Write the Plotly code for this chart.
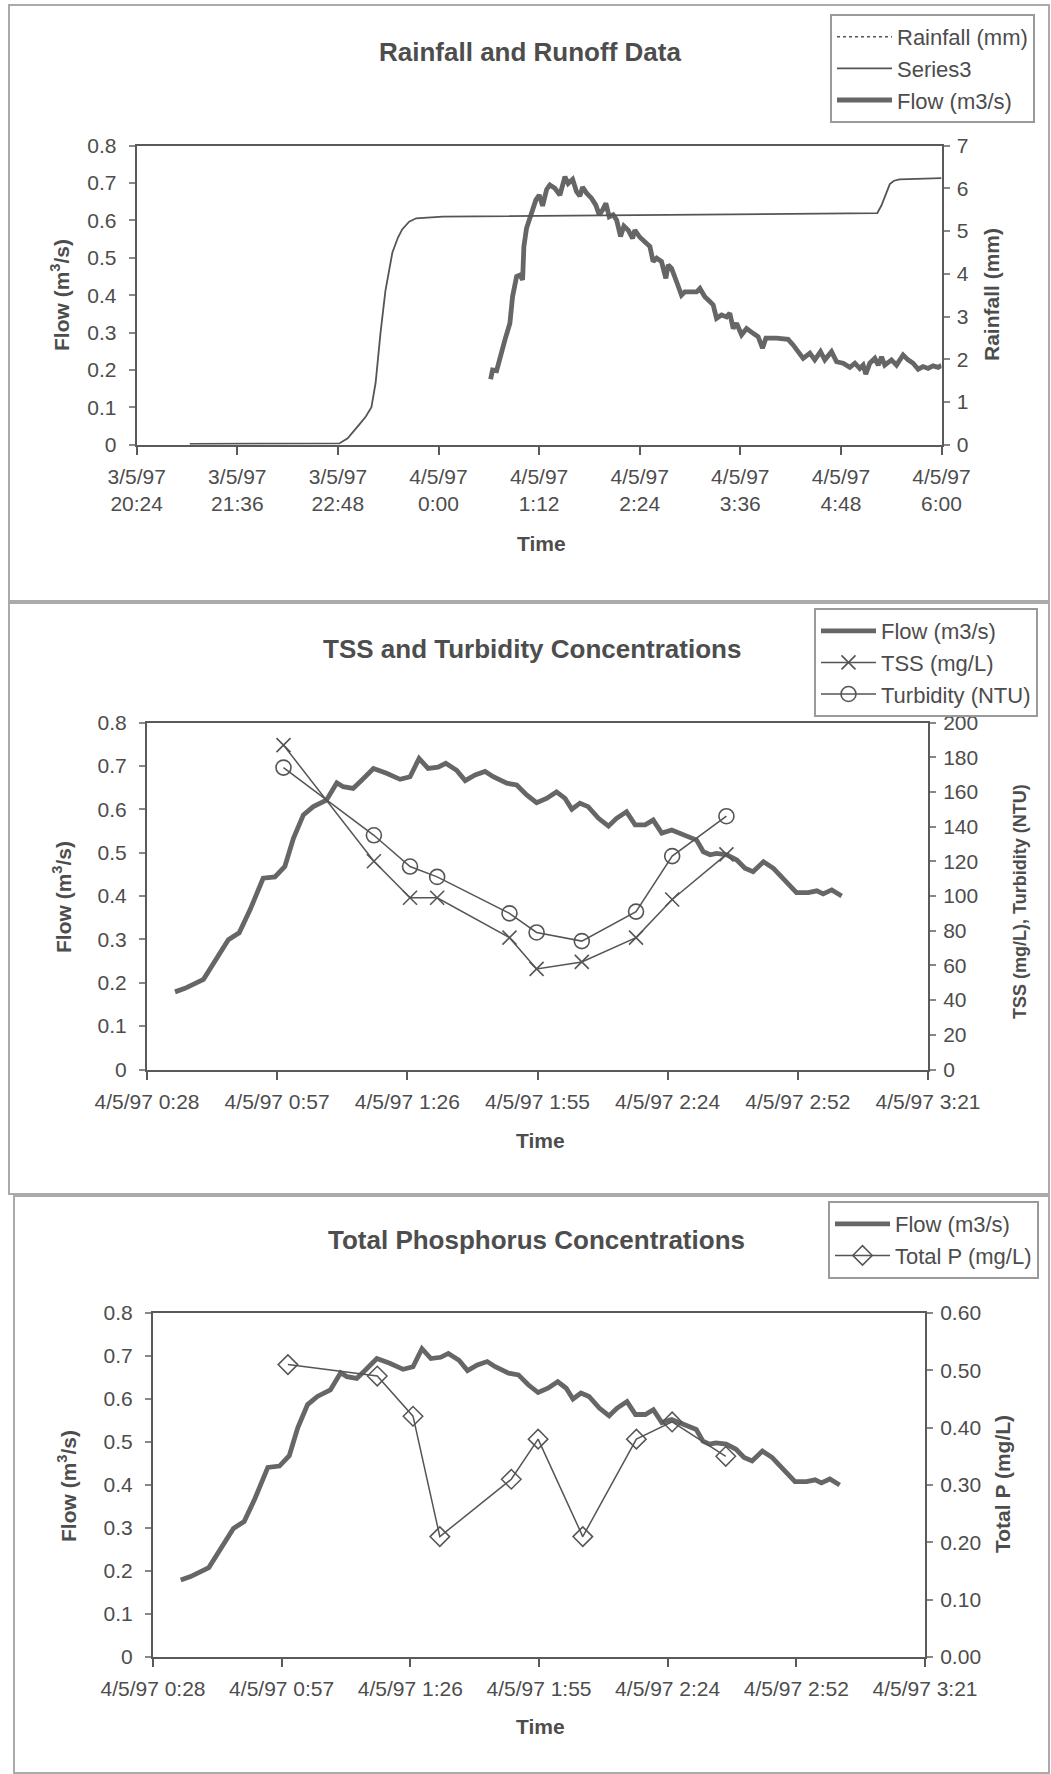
import plotly.graph_objects as go
import pandas as pd

# ---------------- data ----------------
# Panel 1 : rainfall & runoff (time in minutes after 4/5/97 00:00; negative = 3/5/97)
flow1_min = [37.3, 38.7, 41.6, 44.4, 47.5, 51.1, 53.0, 55.9, 58.3, 60.2, 61.1, 63.0, 66.6, 69.7,
             72.1, 74.5, 77.4, 79.7, 83.3, 86.9, 90.5, 92.8, 96.0, 98.8, 101.2, 103.1, 106.0,
             109.6, 112.6, 115.0, 117.4, 119.8, 122.2, 125.0, 127.5, 130.3, 132.7, 135.8, 138.9,
             140.5, 144.1, 147.7, 151.3, 153.6, 156.1, 159.6, 162.7, 164.4, 166.8, 170.4, 173.9,
             176.3, 179.9, 184.7, 187.1, 190.6, 194.2, 196.6, 199.0, 202.6, 206.2, 208.5, 210.9,
             213.3, 216.9, 220.5, 225.2, 228.8, 231.9, 234.3, 241.9, 250.2, 253.8, 258.6, 261.0,
             265.8, 269.3, 273.4, 276.5, 281.3, 284.9, 289.6, 294.4, 298.0, 301.5, 303.9, 305.8,
             308.7, 312.3, 314.7, 317.1, 319.4, 324.2, 327.8, 332.5, 336.1, 339.7, 343.3, 346.8,
             350.4, 354.0, 357.6, 360.0]
flow1 = [0.175, 0.200, 0.198, 0.240, 0.280, 0.325, 0.396, 0.450, 0.454, 0.441, 0.530, 0.579, 0.619, 0.655,
         0.668, 0.639, 0.683, 0.695, 0.686, 0.668, 0.717, 0.699, 0.710, 0.677, 0.665, 0.689, 0.673,
         0.659, 0.641, 0.615, 0.628, 0.646, 0.610, 0.615, 0.601, 0.557, 0.585, 0.574, 0.552,
         0.574, 0.555, 0.543, 0.530, 0.490, 0.499, 0.490, 0.445, 0.481, 0.472, 0.436, 0.400,
         0.409, 0.409, 0.409, 0.418, 0.396, 0.383, 0.374, 0.338, 0.347, 0.342, 0.352, 0.311,
         0.325, 0.294, 0.311, 0.298, 0.289, 0.258, 0.285, 0.285, 0.282, 0.267, 0.245, 0.231,
         0.245, 0.227, 0.249, 0.227, 0.249, 0.222, 0.218, 0.207, 0.218, 0.204, 0.213, 0.189,
         0.218, 0.231, 0.213, 0.235, 0.213, 0.227, 0.213, 0.240, 0.227, 0.218, 0.202, 0.209,
         0.204, 0.211, 0.207, 0.212]
rain_min = [-178, -71, -65, -60, -56, -52, -48, -45, -41.5, -38, -33, -29, -26, -21, -16, 3,
            200, 314, 317, 320, 323, 326, 330, 360]
rain_mm = [0.02, 0.03, 0.15, 0.36, 0.50, 0.66, 0.88, 1.45, 2.62, 3.60, 4.50, 4.85, 5.04, 5.22, 5.30, 5.34,
           5.38, 5.42, 5.60, 5.85, 6.10, 6.18, 6.21, 6.24]

# Panels 2 & 3 : flow
flow2_min = [35.0, 37.2, 41.3, 43.8, 46.8, 49.2, 51.6, 54.5, 57.1, 59.3, 61.2, 63.4, 65.6, 68.5,
             70.8, 72.2, 74.4, 76.3, 78.9, 81.8, 84.8, 87.0, 89.0, 91.0, 93.2, 94.9, 97.3, 99.2,
             101.4, 103.6, 105.4, 108.4, 110.6, 112.8, 115.0, 117.2, 119.4, 121.3, 122.8, 124.6,
             126.4, 128.7, 130.9, 132.7, 134.9, 136.8, 139.0, 140.8, 142.7, 144.9, 146.7, 148.9,
             150.4, 151.9, 153.4, 154.8, 157.1, 159.3, 161.1, 162.9, 165.2, 167.4, 169.6, 172.5,
             175.1, 177.0, 178.4, 180.3, 182.5]
flow2 = [0.179, 0.187, 0.208, 0.249, 0.299, 0.315, 0.368, 0.441, 0.444, 0.468, 0.533, 0.587, 0.606, 0.621,
         0.661, 0.652, 0.648, 0.667, 0.694, 0.683, 0.669, 0.675, 0.717, 0.694, 0.697, 0.706, 0.690, 0.666,
         0.679, 0.687, 0.675, 0.660, 0.656, 0.633, 0.615, 0.625, 0.640, 0.625, 0.600, 0.614,
         0.606, 0.579, 0.561, 0.579, 0.594, 0.564, 0.564, 0.575, 0.545, 0.552, 0.545, 0.537,
         0.529, 0.502, 0.495, 0.498, 0.495, 0.483, 0.464, 0.456, 0.479, 0.464, 0.441, 0.408,
         0.408, 0.412, 0.405, 0.414, 0.400]

# water-quality samples
sample_min = [59, 79, 87, 93, 109, 115, 125, 137, 145, 157]
tss = [187, 120, 99, 99, 76, 58, 62, 76, 98, 124]
turbidity = [174, 135, 117, 111, 90, 79, 74, 91, 123, 146]
total_p = [0.51, 0.49, 0.42, 0.21, 0.31, 0.38, 0.21, 0.38, 0.41, 0.35]

# tick labels
p1_tick_min = [-216, -144, -72, 0, 72, 144, 216, 288, 360]
p1_tick_text = ["3/5/97<br>20:24", "3/5/97<br>21:36", "3/5/97<br>22:48", "4/5/97<br>0:00",
                "4/5/97<br>1:12", "4/5/97<br>2:24", "4/5/97<br>3:36", "4/5/97<br>4:48", "4/5/97<br>6:00"]
p23_tick_min = [28.8, 57.6, 86.4, 115.2, 144.0, 172.8, 201.6]
p23_tick_text = ["4/5/97 0:28", "4/5/97 0:57", "4/5/97 1:26", "4/5/97 1:55",
                 "4/5/97 2:24", "4/5/97 2:52", "4/5/97 3:21"]

# ---------------- helpers ----------------
W, H = 1051, 1774
BASE = pd.Timestamp("1997-05-04 00:00")


def T(mins):
    return [BASE + pd.Timedelta(minutes=m) for m in mins]


def px(x):
    return x / W


def py(y):
    return 1 - y / H


FONT = "Liberation Sans, Arial, sans-serif"
TXT = "#4d4d4d"
AX = "#5a5a5a"
FLOWC = "#666666"
THIN = "#555555"

fig = go.Figure()

# ---------------- panel 1 ----------------
fig.add_trace(go.Scatter(x=[None], y=[None], mode="lines", name="Rainfall (mm)",
                         line=dict(color=THIN, width=1.5, dash="dot"),
                         xaxis="x", yaxis="y2", legend="legend", legendgroup="a"))
fig.add_trace(go.Scatter(x=T(rain_min), y=rain_mm, mode="lines", name="Series3",
                         line=dict(color=THIN, width=1.8),
                         xaxis="x", yaxis="y2", legend="legend", legendgroup="b"))
fig.add_trace(go.Scatter(x=T(flow1_min), y=flow1, mode="lines", name="Flow (m3/s)",
                         line=dict(color=FLOWC, width=4.8),
                         xaxis="x", yaxis="y", legend="legend", legendgroup="c"))

# ---------------- panel 2 ----------------
fig.add_trace(go.Scatter(x=T(flow2_min), y=flow2, mode="lines", name="Flow (m3/s)",
                         line=dict(color=FLOWC, width=4.8),
                         xaxis="x2", yaxis="y3", legend="legend2", legendgroup="d"))
fig.add_trace(go.Scatter(x=T(sample_min), y=tss, mode="lines+markers", name="TSS (mg/L)",
                         line=dict(color=THIN, width=1.5),
                         marker=dict(symbol="x-thin-open", size=14, color=THIN,
                                     line=dict(color=THIN, width=1.6)),
                         xaxis="x2", yaxis="y4", legend="legend2", legendgroup="e"))
fig.add_trace(go.Scatter(x=T(sample_min), y=turbidity, mode="lines+markers", name="Turbidity (NTU)",
                         line=dict(color=THIN, width=1.5),
                         marker=dict(symbol="circle-open", size=15, color=THIN,
                                     line=dict(color=THIN, width=1.6)),
                         xaxis="x2", yaxis="y4", legend="legend2", legendgroup="f"))

# ---------------- panel 3 ----------------
fig.add_trace(go.Scatter(x=T(flow2_min), y=flow2, mode="lines", name="Flow (m3/s)",
                         line=dict(color=FLOWC, width=4.8),
                         xaxis="x3", yaxis="y5", legend="legend3", legendgroup="g"))
fig.add_trace(go.Scatter(x=T(sample_min), y=total_p, mode="lines+markers", name="Total P (mg/L)",
                         line=dict(color=THIN, width=1.5),
                         marker=dict(symbol="diamond-open", size=15, color=THIN,
                                     line=dict(color=THIN, width=1.5)),
                         xaxis="x3", yaxis="y6", legend="legend3", legendgroup="h"))

tickfont = dict(family=FONT, size=21, color=TXT)


def xax(domain, anchor, rng, tvals, ttext):
    return dict(domain=domain, anchor=anchor, type="date", range=rng,
                tickmode="array", tickvals=tvals, ticktext=ttext,
                ticks="outside", ticklen=8, tickwidth=1.5, tickcolor=AX,
                showline=True, linecolor=AX, linewidth=2, mirror=True, automargin=False,
                showgrid=False, zeroline=False, tickfont=tickfont, ticklabelstandoff=4)


def yax(domain, anchor, rng, dtick, fmt=None, side="left", overlay=None):
    d = dict(anchor=anchor, range=rng, dtick=dtick, tick0=0, side=side,
             ticks="outside", ticklen=6, tickwidth=1.5, tickcolor="#888",
             showline=True, linecolor=AX, linewidth=2, automargin=False,
             showgrid=False, zeroline=False, tickfont=tickfont,
             ticklabelstandoff=8 if side == "left" else 3)
    if domain is not None:
        d["domain"] = domain
    if overlay:
        d["overlaying"] = overlay
    if fmt:
        d["tickformat"] = fmt
    return d


p1_range = T([-216, 360])
p23_range = T([28.8, 201.6])

legend_base = dict(xanchor="left", yanchor="top", bordercolor="#9a9a9a", borderwidth=2,
                   bgcolor="white", font=dict(family=FONT, size=22, color=TXT),
                   itemwidth=55, tracegroupgap=2, traceorder="normal")

fig.update_layout(
    width=W, height=H, autosize=False,
    margin=dict(l=0, r=0, t=0, b=0, pad=0, autoexpand=False),
    paper_bgcolor="white", plot_bgcolor="white",
    font=dict(family=FONT, color=TXT),
    xaxis=xax([px(136.7), px(941.5)], "y", p1_range, T(p1_tick_min), p1_tick_text),
    yaxis=yax([py(444.7), py(145.7)], "x", [0, 0.8], 0.1),
    yaxis2=yax(None, "x", [0, 7], 1, side="right", overlay="y"),
    xaxis2=xax([px(147), px(928)], "y3", p23_range, T(p23_tick_min), p23_tick_text),
    yaxis3=yax([py(1069.5), py(722.5)], "x2", [0, 0.8], 0.1),
    yaxis4=yax(None, "x2", [0, 200], 20, side="right", overlay="y3"),
    xaxis3=xax([px(153), px(925)], "y5", p23_range, T(p23_tick_min), p23_tick_text),
    yaxis5=yax([py(1657), py(1313)], "x3", [0, 0.8], 0.1),
    yaxis6=yax(None, "x3", [0, 0.6], 0.1, fmt=".2f", side="right", overlay="y5"),
    legend=dict(legend_base, x=px(830), y=py(14)),
    legend2=dict(legend_base, x=px(814), y=py(608)),
    legend3=dict(legend_base, x=px(828), y=py(1201)),
    showlegend=True,
)

# panel frames
frames = [(9, 5, 1049, 601), (9, 603, 1049, 1194), (14, 1196, 1049, 1773)]
for (x0, y0, x1, y1) in frames:
    fig.add_shape(type="rect", xref="paper", yref="paper",
                  x0=px(x0), x1=px(x1), y0=py(y0), y1=py(y1),
                  line=dict(color="#aaaaaa", width=2), layer="below")

# titles and axis titles
ann = [
    ("<b>Rainfall and Runoff Data</b>", 530, 52, 0, 26),
    ("<b>TSS and Turbidity Concentrations</b>", 532, 649, 0, 26),
    ("<b>Total Phosphorus Concentrations</b>", 536, 1240, 0, 26),
    ("<b>Time</b>", 541, 543, 0, 21),
    ("<b>Time</b>", 540, 1140, 0, 21),
    ("<b>Time</b>", 540, 1726, 0, 21),
    ("<b>Flow (m<sup>3</sup>/s)</b>", 60, 295, -90, 21),
    ("<b>Rainfall (mm)</b>", 991, 295, -90, 21),
    ("<b>Flow (m<sup>3</sup>/s)</b>", 62, 897, -90, 21),
    ("<b>TSS (mg/L), Turbidity (NTU)</b>", 1020, 902, -90, 18),
    ("<b>Flow (m<sup>3</sup>/s)</b>", 67, 1486, -90, 21),
    ("<b>Total P (mg/L)</b>", 1002, 1484, -90, 21),
]
for text, x, y, ang, size in ann:
    fig.add_annotation(text=text, x=px(x), y=py(y), xref="paper", yref="paper",
                       showarrow=False, textangle=ang, xanchor="center", yanchor="middle",
                       font=dict(family=FONT, size=size, color=TXT))

fig.write_html("out.html", config={"displayModeBar": False},
               post_script="document.body.style.margin='0px';")
